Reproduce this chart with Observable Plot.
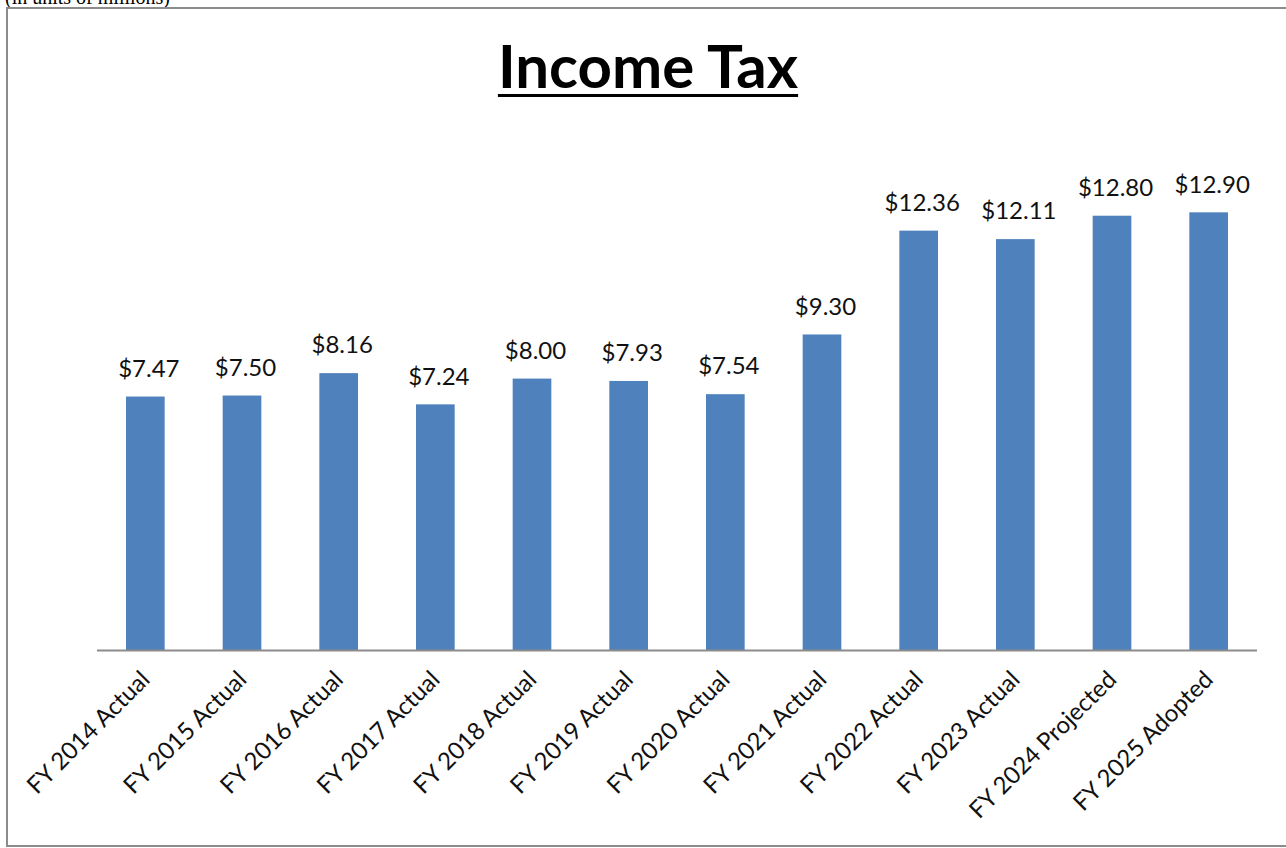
<!DOCTYPE html>
<html>
<head>
<meta charset="utf-8">
<script src="https://cdn.jsdelivr.net/npm/d3@7"></script>
<script src="https://cdn.jsdelivr.net/npm/@observablehq/plot@0.6"></script>
<style>
  html, body { margin: 0; padding: 0; background: #fff; overflow: hidden; }
  #page { position: relative; width: 1286px; height: 848px; overflow: hidden; }
  #note { position: absolute; left: 5px; top: -14px; font-family: "Liberation Serif", serif; font-size: 20px; color: #000; white-space: nowrap; }
  #frame { position: absolute; left: 6px; top: 7px; width: 1300px; height: 840px; border: 2px solid #8c8c8c; box-sizing: border-box; }
  #title { position: absolute; left: 0; width: 1296px; top: 29px; text-align: center; font-family: Lato, sans-serif; font-weight: bold; font-size: 60px; color: #000; text-decoration: underline; text-decoration-thickness: 3px; text-underline-offset: 6px; }
  #chart { position: absolute; left: 0; top: 0; }
</style>
</head>
<body>
<div id="page">
  <div id="note">(in units of millions)</div>
  <div id="frame"></div>
  <div id="chart"></div>
  <div id="title">Income Tax</div>
</div>
<script>
const categories = ["FY 2014 Actual","FY 2015 Actual","FY 2016 Actual","FY 2017 Actual","FY 2018 Actual","FY 2019 Actual","FY 2020 Actual","FY 2021 Actual","FY 2022 Actual","FY 2023 Actual","FY 2024 Projected","FY 2025 Adopted"];
const values = [7.47, 7.50, 8.16, 7.24, 8.00, 7.93, 7.54, 9.30, 12.36, 12.11, 12.80, 12.90];
const labels = ["$7.47","$7.50","$8.16","$7.24","$8.00","$7.93","$7.54","$9.30","$12.36","$12.11","$12.80","$12.90"];

const data = categories.map((c, i) => ({category: c, value: values[i], label: labels[i]}));

const chart = Plot.plot({
  width: 1286,
  height: 848,
  marginLeft: 97,
  marginRight: 29,
  marginTop: 175,
  marginBottom: 198,
  style: {fontFamily: "Lato, sans-serif", background: "transparent"},
  x: {domain: categories, paddingInner: 0.6, paddingOuter: 0.3, round: false, label: null},
  y: {domain: [0, 14], axis: null},
  marks: [
    Plot.barY(data, {x: "category", y: "value", fill: "#4F81BD"}),
    Plot.ruleY([0], {stroke: "#8c8c8c", strokeWidth: 2}),
    Plot.text(data, {x: "category", y: "value", text: "label", dy: -28, dx: 3, fontSize: 24, fill: "#111"}),
    Plot.axisX({tickSize: 0, tickRotate: -45, tickPadding: 25, fontSize: 24, fill: "#111", label: null})
  ]
});
document.getElementById("chart").appendChild(chart);
</script>
</body>
</html>
